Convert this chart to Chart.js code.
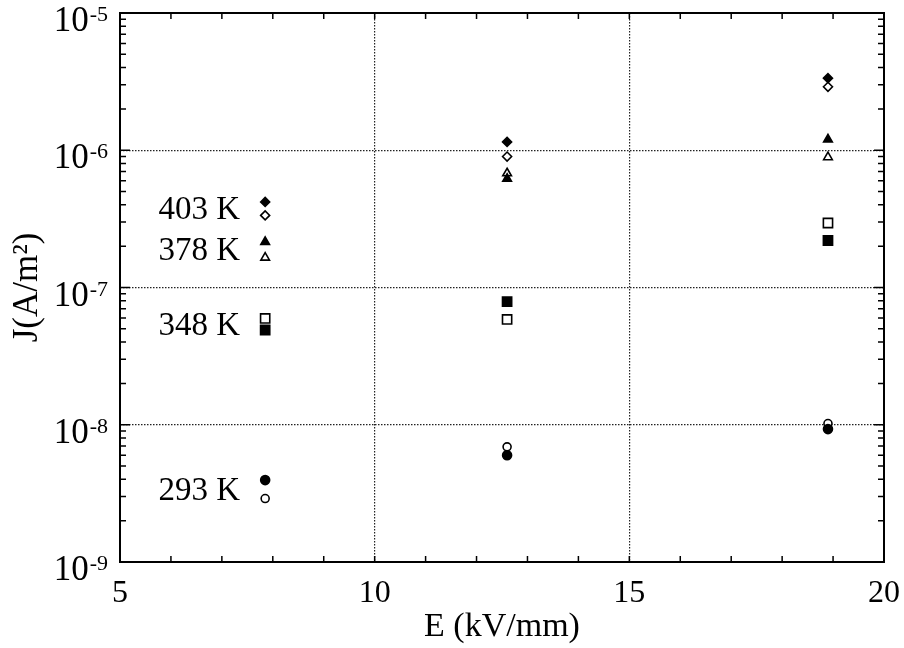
<!DOCTYPE html>
<html>
<head>
<meta charset="utf-8">
<script src="https://cdn.jsdelivr.net/npm/chart.js@4"></script>
<style>
  body { margin: 0; background: #fff; }
</style>
</head>
<body>
<canvas id="jeChart" width="904" height="648"></canvas>
<script>
// field strength, kV/mm (three measurement columns)
const fieldE = [7.85, 12.6, 18.9];

// current density, A/m^2  (filled / open marker per temperature)
const j403Filled = [4.2e-7, 1.15e-6, 3.35e-6];
const j403Open   = [3.35e-7, 9.0e-7, 2.9e-6];
const j378Filled = [2.15e-7, 6.2e-7, 1.2e-6];
const j378Open   = [1.65e-7, 6.8e-7, 8.9e-7];
const j348Filled = [4.9e-8, 7.9e-8, 2.2e-7];
const j348Open   = [5.95e-8, 5.85e-8, 2.95e-7];
const j293Filled = [3.95e-9, 6.0e-9, 9.3e-9];
const j293Open   = [2.9e-9, 6.9e-9, 1.02e-8];

const tempLabels = ['403 K', '378 K', '348 K', '293 K'];
const xTickLabels = [5, 10, 15, 20];
const yDecades = [-9, -8, -7, -6, -5];

const SERIF = "'Liberation Serif', 'Times New Roman', serif";

function toPoints(ys) {
  return ys.map((y, i) => ({ x: fieldE[i], y: y }));
}

function makeSet(label, ys, style, filled, radius) {
  return {
    label: label,
    data: toPoints(ys),
    pointStyle: style,
    pointRadius: radius,
    pointBorderWidth: 1.6,
    pointBorderColor: '#000',
    pointBackgroundColor: filled ? '#000' : '#fff',
    showLine: false,
    order: filled ? 0 : 1,
  };
}

const datasets = [
  makeSet('403 K filled', j403Filled, 'rectRot', true, 4.5),
  makeSet('403 K open', j403Open, 'rectRot', false, 4.5),
  makeSet('378 K filled', j378Filled, 'triangle', true, 5),
  makeSet('378 K open', j378Open, 'triangle', false, 5),
  makeSet('348 K filled', j348Filled, 'rect', true, 6.5),
  makeSet('348 K open', j348Open, 'rect', false, 6.5),
  makeSet('293 K filled', j293Filled, 'circle', true, 4.5),
  makeSet('293 K open', j293Open, 'circle', false, 4),
];

// all 1..9 x 10^n positions for the log axis
const yTickValues = [];
for (let p = -9; p < -5; p++) {
  for (let m = 1; m < 10; m++) yTickValues.push(m * Math.pow(10, p));
}
yTickValues.push(1e-5);

function isDecade(v) {
  const l = Math.log10(v);
  return Math.abs(l - Math.round(l)) < 1e-6;
}

// frame, inward ticks, y labels with superscripts, temperature labels
const framePlugin = {
  id: 'frame',
  afterDraw(chart) {
    const { ctx, chartArea: a, scales } = chart;
    const xs = scales.x, ys = scales.y;
    ctx.save();
    ctx.strokeStyle = '#000';
    ctx.lineWidth = 1.5;
    ctx.beginPath();
    for (let v = 5; v <= 20; v++) {
      const px = xs.getPixelForValue(v);
      ctx.moveTo(px, a.bottom); ctx.lineTo(px, a.bottom - 6);
      ctx.moveTo(px, a.top); ctx.lineTo(px, a.top + 6);
    }
    yTickValues.forEach(v => {
      const py = ys.getPixelForValue(v);
      const len = isDecade(v) ? 10 : 6;
      ctx.moveTo(a.left, py); ctx.lineTo(a.left + len, py);
      ctx.moveTo(a.right, py); ctx.lineTo(a.right - len, py);
    });
    ctx.stroke();

    ctx.lineWidth = 2;
    ctx.strokeRect(a.left, a.top, a.right - a.left, a.bottom - a.top);

    // y tick labels 10^n
    ctx.fillStyle = '#000';
    yDecades.forEach(p => {
      const py = ys.getPixelForValue(Math.pow(10, p));
      const sup = String(p);
      ctx.font = '22px ' + SERIF;
      const supW = ctx.measureText(sup).width;
      const right = a.left - 12;
      ctx.textAlign = 'left';
      ctx.textBaseline = 'alphabetic';
      ctx.fillText(sup, right - supW, py + 8);
      ctx.font = '35px ' + SERIF;
      ctx.textAlign = 'right';
      ctx.fillText('10', right - supW - 1, py + 18);
    });

    // temperature labels next to the first column
    const pairs = [[j403Filled, j403Open], [j378Filled, j378Open], [j348Filled, j348Open], [j293Filled, j293Open]];
    ctx.font = '33px ' + SERIF;
    ctx.textAlign = 'right';
    ctx.textBaseline = 'middle';
    pairs.forEach((pr, i) => {
      const py = (ys.getPixelForValue(pr[0][0]) + ys.getPixelForValue(pr[1][0])) / 2;
      const px = xs.getPixelForValue(fieldE[0]) - 25;
      ctx.fillText(tempLabels[i], px, py + 2);
    });
    ctx.restore();
  }
};

const config = {
  type: 'scatter',
  data: { datasets: datasets },
  options: {
    responsive: false,
    animation: false,
    layout: { padding: { left: 0, right: 20, top: 13, bottom: 0 } },
    plugins: {
      legend: { display: false },
      tooltip: { enabled: false },
    },
    scales: {
      x: {
        type: 'linear',
        min: 5,
        max: 20,
        afterFit: s => { s.height = 86; s.paddingLeft = 0; s.paddingRight = 0; },
        ticks: {
          stepSize: 1,
          autoSkip: false,
          maxRotation: 0,
          padding: 12,
          color: '#000',
          font: { family: SERIF, size: 32 },
          callback: v => xTickLabels.includes(v) ? String(v) : '',
        },
        grid: {
          drawTicks: false,
          lineWidth: 1.2,
          color: c => (c.tick && (c.tick.value === 10 || c.tick.value === 15)) ? '#222' : 'rgba(0,0,0,0)',
        },
        border: { display: false, dash: [1.5, 1.5] },
        title: {
          display: true,
          text: 'E (kV/mm)',
          color: '#000',
          font: { family: SERIF, size: 34 },
          padding: { top: 0, bottom: 1 },
        },
      },
      y: {
        type: 'logarithmic',
        min: 1e-9,
        max: 1e-5,
        afterBuildTicks: s => { s.ticks = yTickValues.map(v => ({ value: v })); },
        afterFit: s => { s.width = 120; s.paddingTop = 0; s.paddingBottom = 0; },
        ticks: { display: false },
        grid: {
          drawTicks: false,
          lineWidth: 1.2,
          color: c => {
            const v = c.tick && c.tick.value;
            return (v && isDecade(v) && v > 1.5e-9 && v < 5e-6) ? '#222' : 'rgba(0,0,0,0)';
          },
        },
        border: { display: false, dash: [1.5, 1.5] },
        title: {
          display: true,
          text: 'J(A/m²)',
          color: '#000',
          font: { family: SERIF, size: 35 },
          padding: { top: 7, bottom: 0 },
        },
      },
    },
  },
  plugins: [framePlugin],
};

new Chart(document.getElementById('jeChart'), config);
</script>
</body>
</html>
